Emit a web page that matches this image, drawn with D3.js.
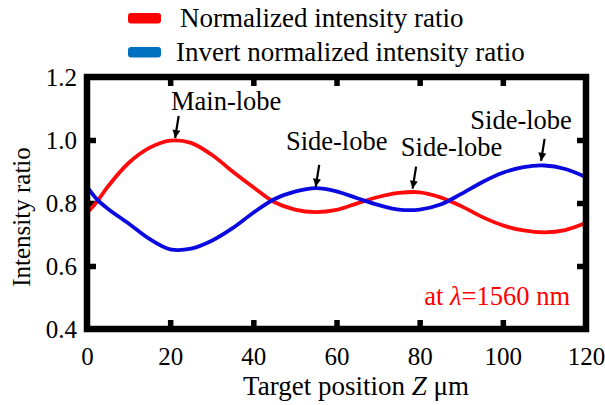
<!DOCTYPE html>
<html>
<head>
<meta charset="utf-8">
<script src="https://cdn.jsdelivr.net/npm/d3@7"></script>
<style>
  body { margin: 0; background: #fff; }
</style>
</head>
<body>
<script>
//target position (um) where the curves were sampled
var positions = [0, 2.5, 5, 10, 15, 20, 25, 30, 35, 40, 45, 50, 55, 60, 65, 70, 75, 80, 85, 90, 95, 100, 105, 110, 115, 120];

//normalized intensity ratio (red)
var normalized = [0.768, 0.806, 0.852, 0.927, 0.975, 0.998, 0.991, 0.953, 0.9, 0.85, 0.803, 0.779, 0.771, 0.778, 0.799, 0.819, 0.832, 0.834, 0.818, 0.79, 0.756, 0.729, 0.713, 0.707, 0.714, 0.737];

//invert normalized intensity ratio (blue)
var inverted = [0.852, 0.81, 0.782, 0.735, 0.686, 0.653, 0.655, 0.68, 0.72, 0.769, 0.812, 0.836, 0.847, 0.837, 0.815, 0.794, 0.779, 0.779, 0.795, 0.829, 0.866, 0.896, 0.914, 0.919, 0.908, 0.882];

var legendLabels = ["Normalized intensity ratio", "Invert normalized intensity ratio"];
var xTicks = [0, 20, 40, 60, 80, 100, 120];
var yTicks = [0.4, 0.6, 0.8, 1.0, 1.2];

//lobe annotations: label and the peak they point at
var annoLabels = ["Main-lobe", "Side-lobe", "Side-lobe", "Side-lobe"];
var annoX = [21.2, 55, 78.3, 109.2];
var annoY = [1.0, 0.848, 0.836, 0.921];

window.onload = drawChart();

function drawChart(){

    var width = 605,
        height = 405;

    var svg = d3.select("body")
        .append("svg")
        .attr("width", width)
        .attr("height", height)
        .attr("font-family", "Liberation Serif, Times New Roman, serif");

    var x = d3.scaleLinear().domain([0, 120]).range([87, 586]);
    var y = d3.scaleLinear().domain([0.4, 1.2]).range([329, 77]);

    //axes with inward ticks on all four sides
    var bottom = svg.append("g")
        .attr("transform", "translate(0," + y(0.4) + ")")
        .call(d3.axisBottom(x).tickValues(xTicks).tickSize(-9).tickPadding(18).tickFormat(d3.format("d")));
    var left = svg.append("g")
        .attr("transform", "translate(" + x(0) + ",0)")
        .call(d3.axisLeft(y).tickValues(yTicks).tickSize(-9).tickPadding(10).tickFormat(d3.format(".1f")));
    var top = svg.append("g")
        .attr("transform", "translate(0," + y(1.2) + ")")
        .call(d3.axisTop(x).tickValues(xTicks.slice(1, -1)).tickSize(-9).tickFormat(""));
    var right = svg.append("g")
        .attr("transform", "translate(" + x(120) + ",0)")
        .call(d3.axisRight(y).tickValues(yTicks.slice(1, -1)).tickSize(-9).tickFormat(""));

    [bottom, left, top, right].forEach(function(g){
        g.attr("font-family", null).attr("font-size", null);
        g.select(".domain").remove();
        g.selectAll(".tick line").attr("stroke", "#000").attr("stroke-width", 5.5);
        g.selectAll(".tick text").attr("fill", "#000").style("font-size", "25px");
    });
    //hide corner ticks on the bottom/left axes
    bottom.selectAll(".tick line").filter(function(d){ return d == 0 || d == 120; }).remove();
    left.selectAll(".tick line").filter(function(d){ return d == 0.4 || d == 1.2; }).remove();

    //curves
    var line = d3.line()
        .x(function(d){ return x(d[0]); })
        .y(function(d){ return y(d[1]); })
        .curve(d3.curveCatmullRom);

    var series = [
        {values: normalized, color: "#ff0a0a"},
        {values: inverted, color: "#0a0ae0"}
    ];

    svg.selectAll(".curve")
        .data(series)
        .enter()
        .append("path")
        .attr("class", "curve")
        .attr("fill", "none")
        .attr("stroke", function(d){ return d.color; })
        .attr("stroke-width", 3.8)
        .attr("d", function(d){
            return line(positions.map(function(p, i){ return [p, d.values[i]]; }));
        });

    //frame
    svg.append("rect")
        .attr("x", x(0))
        .attr("y", y(1.2))
        .attr("width", x(120) - x(0))
        .attr("height", y(0.4) - y(1.2))
        .attr("fill", "none")
        .attr("stroke", "#000")
        .attr("stroke-width", 6.5);

    //arrows and lobe labels
    svg.append("defs").append("marker")
        .attr("id", "head")
        .attr("viewBox", "0 0 10 10")
        .attr("refX", 10)
        .attr("refY", 5)
        .attr("markerWidth", 9)
        .attr("markerHeight", 8)
        .attr("markerUnits", "userSpaceOnUse")
        .attr("orient", "auto")
        .append("path")
        .attr("d", "M0,0L10,5L0,10z")
        .attr("fill", "#000");

    var tipGap = [2, 1, 3, 4];
    var textShift = [51, 21, 39, -20];
    var textRise = [28, 37, 33, 32];

    annoLabels.forEach(function(label, i){
        var tx = x(annoX[i]),
            ty = y(annoY[i]) - tipGap[i];
        svg.append("line")
            .attr("x1", tx + 3.5)
            .attr("y1", ty - 22)
            .attr("x2", tx)
            .attr("y2", ty)
            .attr("stroke", "#000")
            .attr("stroke-width", 2.2)
            .attr("marker-end", "url(#head)");
        svg.append("text")
            .attr("x", tx + textShift[i])
            .attr("y", ty - textRise[i])
            .attr("text-anchor", "middle")
            .style("font-size", "26.5px")
            .text(label);
    });

    //wavelength note
    var note = svg.append("text")
        .attr("x", 570)
        .attr("y", 305)
        .attr("text-anchor", "end")
        .attr("fill", "#ff0000")
        .style("font-size", "26.5px");
    note.append("tspan").text("at ");
    note.append("tspan").style("font-style", "italic").text("\u03bb");
    note.append("tspan").text("=1560 nm");

    //axis titles
    var xt = svg.append("text")
        .attr("x", 356)
        .attr("y", 395)
        .attr("text-anchor", "middle")
        .style("font-size", "27px");
    xt.append("tspan").text("Target position ");
    xt.append("tspan").style("font-style", "italic").text("Z");
    xt.append("tspan").text(" \u03bcm");

    svg.append("text")
        .attr("transform", "translate(30,217) rotate(-90)")
        .attr("text-anchor", "middle")
        .style("font-size", "25px")
        .text("Intensity ratio");

    //legend
    var legendColors = ["#ff0000", "#0070c0"];
    var legendTextX = [180, 176];
    var legend = svg.selectAll(".legend")
        .data(legendLabels)
        .enter()
        .append("g")
        .attr("class", "legend")
        .attr("transform", function(d, i){ return "translate(0," + (18 + i * 34) + ")"; });
    legend.append("rect")
        .attr("x", 128)
        .attr("y", -5)
        .attr("width", 33)
        .attr("height", 10.5)
        .attr("rx", 3)
        .attr("fill", function(d, i){ return legendColors[i]; });
    legend.append("text")
        .attr("x", function(d, i){ return legendTextX[i]; })
        .attr("y", 9)
        .style("font-size", "27px")
        .text(function(d){ return d; });
};
</script>
</body>
</html>
